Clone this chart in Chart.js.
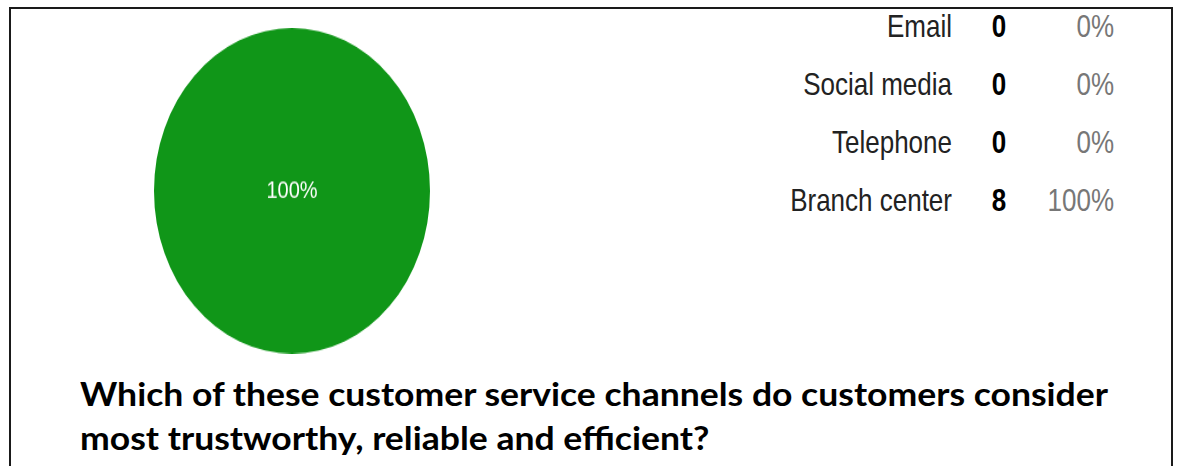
<!DOCTYPE html>
<html>
<head>
<meta charset="utf-8">
<script src="https://cdn.jsdelivr.net/npm/chart.js@4"></script>
<style>
  html, body { margin: 0; padding: 0; background: #fff; overflow: hidden; }
  body { width: 1179px; height: 466px; position: relative; font-family: "Liberation Sans", Arial, sans-serif; }
  #frame { position: absolute; left: 9px; top: 7px; width: 1160px; height: 480px; border: 2px solid #1a1a1a; }
  #pieWrap { position: absolute; left: 154px; top: 28px; width: 276px; height: 276px; transform: scaleY(1.18); transform-origin: 0 0; }
  .cell { position: absolute; font-size: 26px; line-height: 26px; white-space: nowrap; transform: scaleY(1.18); transform-origin: 0 12.7px; }
  .name { color: #222; text-align: right; width: 300px; }
  .count { color: #000; font-weight: bold; text-align: center; width: 40px; }
  .pct { color: #777; text-align: right; width: 120px; }
  #title { position: absolute; left: 80px; top: 371px; font-family: Lato, "Open Sans", sans-serif; font-weight: bold; font-size: 33px; line-height: 44px; color: #000; white-space: nowrap; transform-origin: 0 0; }
</style>
</head>
<body>
<div id="frame"></div>
<div id="pieWrap"><canvas id="pie" width="276" height="276"></canvas></div>
<div id="legend"></div>
<div id="title">Which of these customer service channels do customers consider<br>most trustworthy, reliable and efficient?</div>
<script>
// survey answers
const channels = ['Email', 'Social media', 'Telephone', 'Branch center'];
const counts = [0, 0, 0, 8];
const colors = ['#3366cc', '#dc3912', '#ff9900', '#109618'];

const total = counts.reduce((a, b) => a + b, 0);
const percents = counts.map(c => Math.round(c / total * 100));

// legend table on the right
const legend = document.getElementById('legend');
channels.forEach((name, i) => {
    const top = 13 + i * 58;
    legend.insertAdjacentHTML('beforeend',
        `<div class="cell name" style="left:652px;top:${top}px">${name}</div>` +
        `<div class="cell count" style="left:979px;top:${top}px">${counts[i]}</div>` +
        `<div class="cell pct" style="left:994px;top:${top}px">${percents[i]}%</div>`);
});

// percentage label at the centre of each slice
const sliceLabels = {
    id: 'sliceLabels',
    afterDatasetsDraw(chart) {
        const ctx = chart.ctx;
        const meta = chart.getDatasetMeta(0);
        meta.data.forEach((arc, i) => {
            if (!counts[i]) return;
            const p = percents[i] === 100 ? { x: arc.x, y: arc.y } : arc.tooltipPosition();
            ctx.save();
            ctx.fillStyle = '#fff';
            ctx.font = '20px "Liberation Sans", Arial, sans-serif';
            ctx.textAlign = 'center';
            ctx.textBaseline = 'middle';
            ctx.fillText(percents[i] + '%', p.x, p.y);
            ctx.restore();
        });
    }
};

new Chart(document.getElementById('pie'), {
    type: 'pie',
    data: {
        labels: channels,
        datasets: [{
            data: counts,
            backgroundColor: colors,
            borderWidth: 0
        }]
    },
    options: {
        responsive: false,
        animation: false,
        layout: { padding: 0 },
        plugins: {
            legend: { display: false },
            tooltip: { enabled: false }
        }
    },
    plugins: [sliceLabels]
});

// squeeze the question to its line width
const title = document.getElementById('title');
const w = title.getBoundingClientRect().width;
title.style.transform = `scaleX(${1028 / w})`;
</script>
</body>
</html>
